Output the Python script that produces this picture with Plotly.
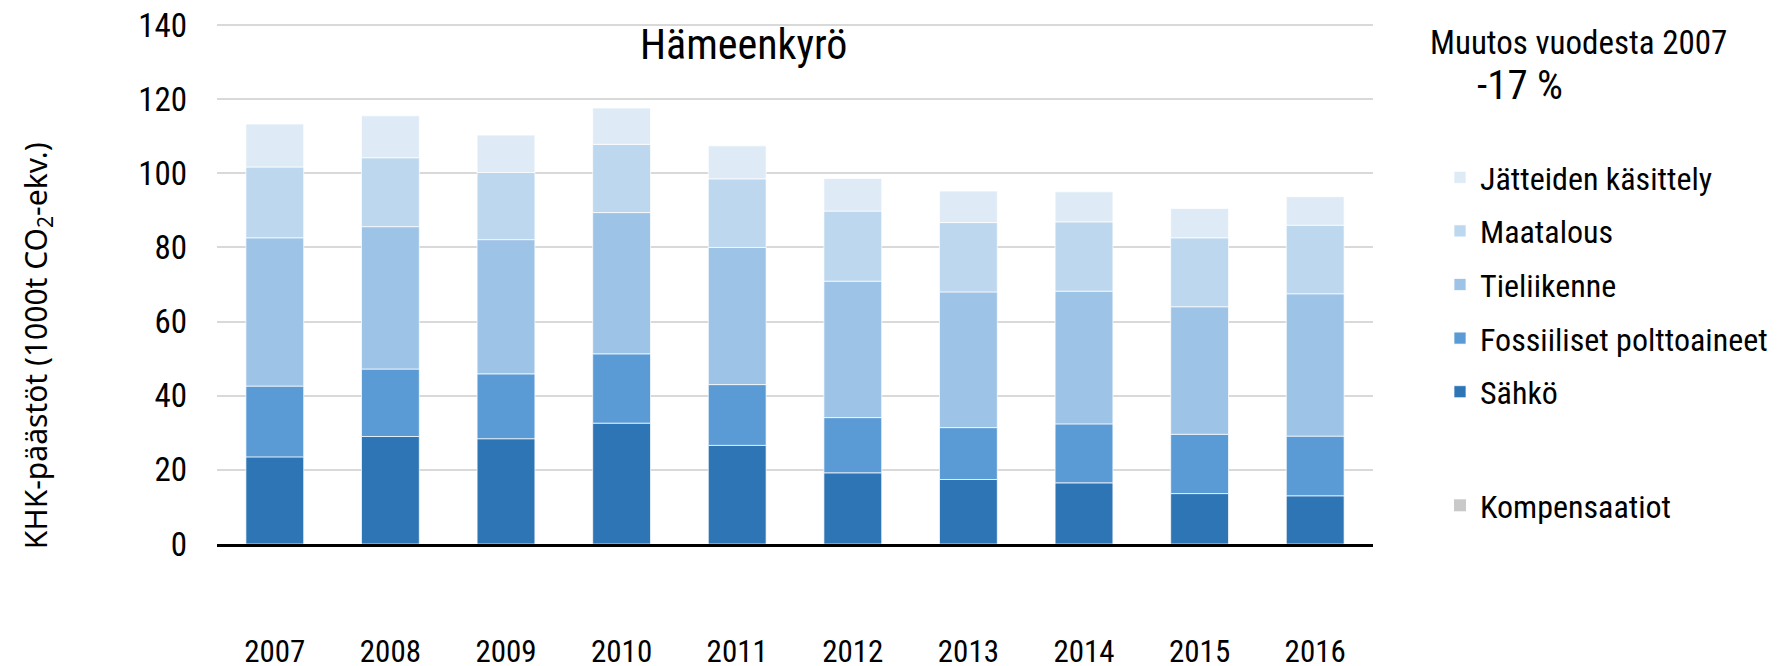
import plotly.graph_objects as go

years = ["2007", "2008", "2009", "2010", "2011", "2012", "2013", "2014", "2015", "2016"]
sahko = [23.5, 29.0, 28.4, 32.6, 26.6, 19.2, 17.4, 16.5, 13.6, 13.0]
fossiiliset = [19.1, 18.2, 17.5, 18.7, 16.4, 14.9, 14.0, 15.9, 16.0, 16.1]
tieliikenne = [40.0, 38.4, 36.2, 38.1, 37.0, 36.8, 36.6, 35.8, 34.4, 38.4]
maatalous = [19.1, 18.6, 18.1, 18.4, 18.5, 18.9, 18.7, 18.7, 18.6, 18.5]
jatteet = [11.6, 11.3, 10.1, 9.8, 8.9, 8.8, 8.5, 8.1, 7.9, 7.7]
kompensaatiot = [0, 0, 0, 0, 0, 0, 0, 0, 0, 0]

series = [
    ("Sähkö", sahko, "#2E75B6", 5),
    ("Fossiiliset polttoaineet", fossiiliset, "#5B9BD5", 4),
    ("Tieliikenne", tieliikenne, "#9DC3E6", 3),
    ("Maatalous", maatalous, "#BDD7EE", 2),
    ("Jätteiden käsittely", jatteet, "#DEEBF7", 1),
]

NARROW = "Liberation Sans Narrow, Roboto Condensed, Arial Narrow, DejaVu Sans Condensed, sans-serif"

# plot area in page pixels (140 gridline sits at y=25, 0 at y=544)
L, R, T, B = 217, 1374, 23, 544
W, H = R - L, B - T
FIG_W, FIG_H = 1784, 666
Y_MAX = 140 + (25 - T) * 140 / (B - 25)


def px_x(x):
    return (x - L) / W


def px_y(y):
    return (B - y) / H


fig = go.Figure()
for name, vals, color, rank in series:
    fig.add_trace(go.Bar(
        x=years, y=vals, name=name,
        marker=dict(color=color, line=dict(color="rgba(255,255,255,0.7)", width=1)),
        legendrank=rank, legend="legend", legendgroup=name,
    ))
fig.add_trace(go.Bar(
    x=years, y=kompensaatiot, name="Kompensaatiot",
    marker=dict(color="#C9C9C9", line=dict(width=0)),
    legend="legend2",
))

fig.update_layout(
    width=FIG_W, height=FIG_H,
    margin=dict(l=L, r=FIG_W - R, t=T, b=FIG_H - B),
    barmode="relative",
    bargap=0.5,
    plot_bgcolor="white", paper_bgcolor="white",
    font=dict(family=NARROW, size=32, color="#000000"),
    showlegend=True,
    legend=dict(
        x=px_x(1440), xanchor="left", y=px_y(150), yanchor="top",
        font=dict(family=NARROW, size=32, color="#000000"),
        traceorder="grouped", tracegroupgap=9, bgcolor="rgba(0,0,0,0)",
    ),
    legend2=dict(
        x=px_x(1440), xanchor="left", y=px_y(478), yanchor="top",
        font=dict(family=NARROW, size=32, color="#000000"),
        bgcolor="rgba(0,0,0,0)",
    ),
    xaxis=dict(
        showgrid=False, showline=True, linecolor="#000000", linewidth=3,
        ticks="", tickfont=dict(family=NARROW, size=31), ticklabelstandoff=78,
        automargin=False,
    ),
    yaxis=dict(
        range=[0, Y_MAX], tick0=0, dtick=20, showgrid=True, gridcolor="#D9D9D9", gridwidth=1.5,
        zeroline=False, showline=False, ticks="",
        tickfont=dict(family=NARROW, size=33), ticklabelstandoff=29,
        automargin=False,
    ),
    annotations=[
        dict(text="KHK-päästöt (1000t CO<sub>2</sub>-ekv.)", xref="paper", yref="paper",
             x=px_x(37), y=px_y(346), xanchor="center", yanchor="middle", textangle=-90,
             showarrow=False, font=dict(family="Noto Sans, DejaVu Sans, sans-serif", size=30, color="#000000")),
        dict(text="Hämeenkyrö", xref="paper", yref="paper", x=px_x(744), y=px_y(45),
             xanchor="center", yanchor="middle", showarrow=False,
             font=dict(family=NARROW, size=42, color="#000000")),
        dict(text="Muutos vuodesta 2007", xref="paper", yref="paper", x=px_x(1429), y=px_y(42),
             xanchor="left", yanchor="middle", showarrow=False,
             font=dict(family=NARROW, size=33, color="#000000")),
        dict(text="-17 %", xref="paper", yref="paper", x=px_x(1476), y=px_y(85),
             xanchor="left", yanchor="middle", showarrow=False,
             font=dict(family=NARROW, size=41, color="#000000")),
    ],
)

fig.write_html("out.html", config={"displayModeBar": False},
               post_script="document.body.style.margin='0';document.body.style.overflow='hidden';")
